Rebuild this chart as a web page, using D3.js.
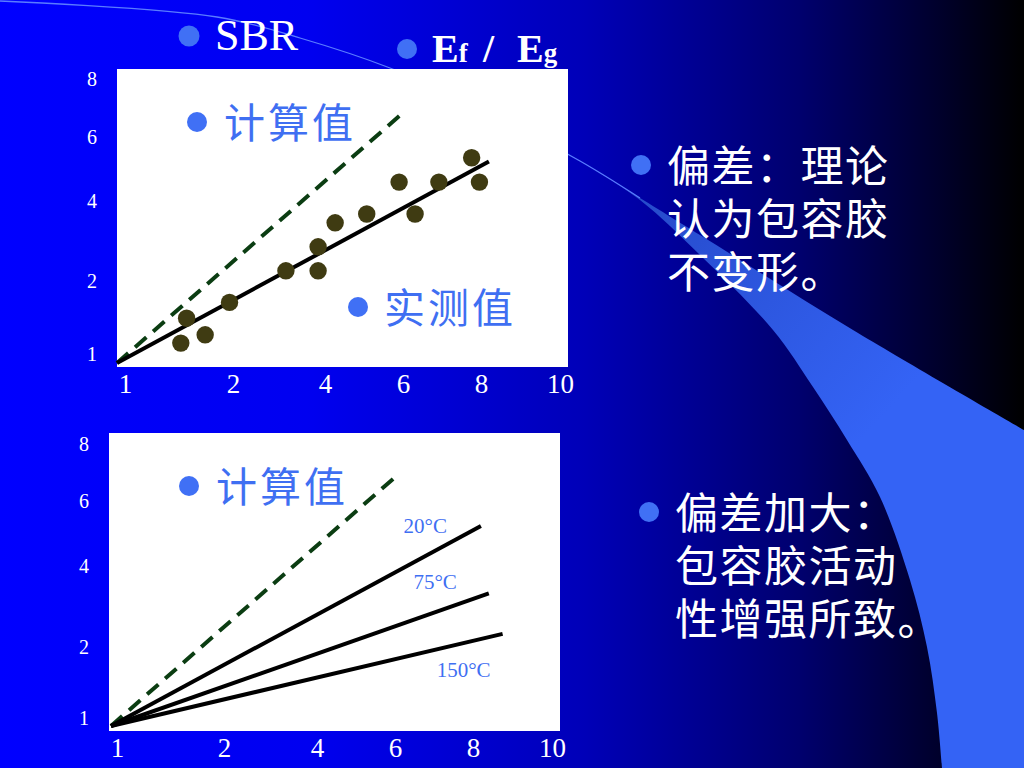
<!DOCTYPE html>
<html><head><meta charset="utf-8">
<script src="https://cdn.jsdelivr.net/npm/d3@7"></script>
<style>html,body{margin:0;padding:0;background:#000;overflow:hidden}</style>
</head><body>
<svg id="c" width="1024" height="768"></svg>
<script>
// ---------------- data ----------------
const xTickValues = [1, 2, 4, 6, 8, 10];
const yTickValues = [1, 2, 4, 6, 8];
// measured Ef/Eg points (top chart)
const measuredX = [1.55, 1.60, 1.76, 1.97, 3.15, 3.85, 3.85, 4.26, 5.07, 5.90, 6.31, 6.92, 7.76, 7.96];
const measuredY = [1.24, 1.54, 1.34, 1.73, 2.23, 2.23, 2.83, 3.43, 3.65, 4.56, 3.65, 4.56, 5.32, 4.56];
// calculated line (dashed) and measured fit line
const calcX = [1, 6];
const calcY = [1, 6.8];
const fitX = [1, 8.2];
const fitY = [1, 5.2];
// temperature lines (bottom chart)
const tempNames = ["20°C", "75°C", "150°C"];
const tempStartX = [1, 1, 1];
const tempStartY = [1, 1, 1];
const tempEndX = [8.2, 8.4, 8.75];
const tempEndY = [5.2, 3.3, 2.3];
// texts
const titleText = "SBR";
const calcLabel = "计算值";
const measLabel = "实测值";
const note1 = ["偏差：理论", "认为包容胶", "不变形。"];
const note2 = ["偏差加大：", "包容胶活动", "性增强所致。"];

// ---------------- layout ----------------
const svg = d3.select("#c");
const defs = svg.append("defs");
const SERIF = "'Liberation Serif','Times New Roman',serif";
const CJK = "'Noto Sans CJK SC','Noto Sans CJK JP',sans-serif";
const LEG = "#3f6ff2";
const BUL = "#4070f5";

const bg = defs.append("linearGradient").attr("id", "bg").attr("x1", 0).attr("x2", 1).attr("y1", 0).attr("y2", 0);
[[0, "#0000ff"], [0.3, "#0000f0"], [0.57, "#0000b8"], [0.78, "#00006e"], [0.92, "#00002a"], [1, "#000000"]]
  .forEach(([o, c]) => bg.append("stop").attr("offset", o).attr("stop-color", c));
svg.append("rect").attr("width", 1024).attr("height", 768).attr("fill", "url(#bg)");

// decorative swoosh
const sw = defs.append("linearGradient").attr("id", "sw").attr("gradientUnits", "userSpaceOnUse")
  .attr("x1", 600).attr("y1", 170).attr("x2", 880).attr("y2", 420);
sw.append("stop").attr("offset", 0).attr("stop-color", "#2447c4");
sw.append("stop").attr("offset", 1).attr("stop-color", "#3463f5");
const curve = d3.line().curve(d3.curveCatmullRom);
const upper = [[580, 161], [700, 235], [853, 330], [1024, 430]];
const lower = [[942, 768], [937, 713], [927, 647], [910, 580], [880, 497], [847, 440], [813, 387], [773, 330], [700, 255], [640, 200], [580, 161]];
svg.append("path").attr("d", curve(upper) + "L1024,768" + curve(lower).replace("M", "L") + "Z")
  .attr("fill", "url(#sw)");
svg.append("path").attr("d", curve([[0, 1], [217, 17], [300, 38], [390, 68], [480, 108], [580, 161], [640, 198]]))
  .attr("fill", "none").attr("stroke", "#5a7cff").attr("stroke-width", 1.3);

// titles
svg.append("circle").attr("cx", 189).attr("cy", 36).attr("r", 10.5).attr("fill", BUL);
svg.append("text").attr("x", 215).attr("y", 50).attr("font-family", SERIF).attr("font-size", 44)
  .attr("fill", "#fff").text(titleText);
svg.append("circle").attr("cx", 407).attr("cy", 49).attr("r", 10).attr("fill", BUL);
const ef = svg.append("text").attr("y", 62).attr("font-family", SERIF).attr("font-weight", "bold")
  .attr("font-size", 40).attr("fill", "#fff");
ef.append("tspan").attr("x", 432).text("E");
ef.append("tspan").attr("font-size", 27).text("f");
ef.append("tspan").attr("x", 483).text("/");
ef.append("tspan").attr("x", 517).text("E");
ef.append("tspan").attr("font-size", 27).text("g");

// ---------------- charts ----------------
function chart(cfg) {
  const g = svg.append("g");
  g.append("rect").attr("x", cfg.plot[0]).attr("y", cfg.plot[1]).attr("width", cfg.plot[2]).attr("height", cfg.plot[3]).attr("fill", "#fff");
  const x = d3.scaleLinear().domain(xTickValues).range(cfg.xr);
  const y = d3.scaleLinear().domain(yTickValues).range(cfg.yr);
  const ax = g.append("g").attr("transform", `translate(0,${cfg.xLabelY})`)
    .call(d3.axisBottom(x).tickValues(xTickValues).tickSize(0).tickPadding(0).tickFormat(d3.format("d")));
  ax.select(".domain").remove();
  ax.selectAll("text").attr("y", 0).attr("dy", "0.35em").attr("fill", "#fff")
    .attr("font-family", SERIF).attr("font-size", cfg.xFont)
    .attr("x", d => d === 1 ? cfg.firstDx : 0);
  const ay = g.append("g").attr("transform", `translate(${cfg.yLabelX},0)`)
    .call(d3.axisLeft(y).tickValues(yTickValues).tickSize(0).tickPadding(0).tickFormat(d3.format("d")));
  ay.select(".domain").remove();
  ay.selectAll("text").attr("x", 0).attr("text-anchor", "middle").attr("dy", "0.35em").attr("fill", "#fff")
    .attr("font-family", SERIF).attr("font-size", cfg.yFont)
    .attr("y", d => d === 1 ? cfg.firstDy : 0);
  const line = d3.line().x(d => x(d[0])).y(d => y(d[1]));
  return { g, x, y, line };
}

function legend(g, cx, cy, tx, ty, label) {
  g.append("circle").attr("cx", cx).attr("cy", cy).attr("r", 10).attr("fill", BUL);
  g.append("text").attr("x", tx).attr("y", ty).attr("dominant-baseline", "central")
    .attr("font-family", CJK).attr("font-size", 41).attr("letter-spacing", 3).attr("fill", LEG).text(label);
}

// top chart
const topC = chart({ plot: [117, 69, 451, 298], xr: [117, 233, 325, 403, 481, 560], yr: [363, 280, 200, 136, 78],
  xLabelY: 384, yLabelX: 92, xFont: 27, yFont: 20, firstDx: 8, firstDy: -10 });
topC.g.append("path").attr("d", topC.line(d3.zip(calcX, calcY))).attr("fill", "none")
  .attr("stroke", "#0b3d12").attr("stroke-width", 4).attr("stroke-dasharray", "15,9");
topC.g.append("path").attr("d", topC.line(d3.zip(fitX, fitY))).attr("fill", "none")
  .attr("stroke", "#000").attr("stroke-width", 4);
topC.g.selectAll("circle.pt").data(d3.zip(measuredX, measuredY)).join("circle").attr("class", "pt")
  .attr("cx", d => topC.x(d[0])).attr("cy", d => topC.y(d[1])).attr("r", 8.7).attr("fill", "#3f3b12");
legend(topC.g, 197, 122, 224, 120, calcLabel);
legend(topC.g, 358, 307, 384, 305, measLabel);

// bottom chart
const botC = chart({ plot: [109, 433, 451, 298], xr: [111, 224, 317, 395, 473, 552], yr: [726, 646, 565, 500, 443],
  xLabelY: 748, yLabelX: 84, xFont: 27, yFont: 20, firstDx: 6, firstDy: -9 });
botC.g.append("path").attr("d", botC.line(d3.zip(calcX, calcY))).attr("fill", "none")
  .attr("stroke", "#0b3d12").attr("stroke-width", 4).attr("stroke-dasharray", "15,9");
const labelOff = [[-34, 0], [-32, -12], [-12, 36]];
tempNames.forEach((name, i) => {
  const pts = [[tempStartX[i], tempStartY[i]], [tempEndX[i], tempEndY[i]]];
  botC.g.append("path").attr("d", botC.line(pts)).attr("fill", "none").attr("stroke", "#000").attr("stroke-width", 4);
  botC.g.append("text").attr("x", botC.x(tempEndX[i]) + labelOff[i][0]).attr("y", botC.y(tempEndY[i]) + labelOff[i][1])
    .attr("text-anchor", "end").attr("dy", "0.35em").attr("font-family", SERIF).attr("font-size", 21)
    .attr("fill", LEG).text(name);
});
legend(botC.g, 189, 486, 216, 484, calcLabel);

// right notes
function note(lines, bx, by, tx, ty) {
  svg.append("circle").attr("cx", bx).attr("cy", by).attr("r", 10).attr("fill", BUL);
  svg.append("g").selectAll("text").data(lines).join("text")
    .attr("x", tx).attr("y", (d, i) => ty + i * 53).attr("dominant-baseline", "central")
    .attr("font-family", CJK).attr("font-size", 43).attr("letter-spacing", 1.5).attr("fill", "#fff").text(d => d);
}
note(note1, 641, 165, 667, 163);
note(note2, 649, 512, 675, 510);
</script>
</body></html>
